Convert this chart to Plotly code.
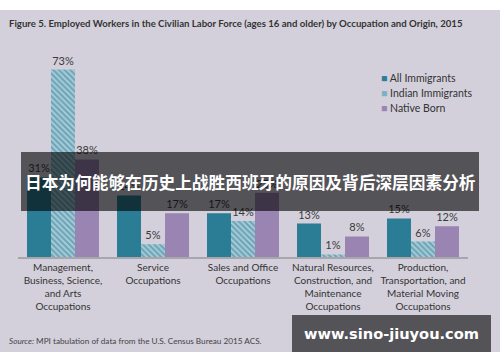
import plotly.graph_objects as go

categories = [
    "Management,<br>Business, Science,<br>and Arts<br>Occupations",
    "Service<br>Occupations",
    "Sales and Office<br>Occupations",
    "Natural Resources,<br>Construction, and<br>Maintenance<br>Occupations",
    "Production,<br>Transportation, and<br>Material Moving<br>Occupations",
]
all_immigrants = [31, 24, 17, 13, 15]
indian_immigrants = [73, 5, 14, 1, 6]
native_born = [38, 17, 25, 8, 12]
series_names = ["All Immigrants", "Indian Immigrants", "Native Born"]

TEAL = "#2b7d95"
PURPLE = "#9a84b2"
BG = "#d3d0db"
TXT = "#3a3a3a"
FONT = "Lato"

x = list(range(len(categories)))

fig = go.Figure()
fig.add_trace(go.Bar(
    x=x, y=all_immigrants, name=series_names[0],
    marker=dict(color=TEAL, line=dict(width=0)),
    text=[f"{v}%" for v in all_immigrants], textposition="outside",
    cliponaxis=False, showlegend=False,
))
fig.add_trace(go.Bar(
    x=x, y=indian_immigrants, name=series_names[1],
    marker=dict(color="#a8cbd7", line=dict(width=0),
                pattern=dict(shape="\\", fgcolor=TEAL, bgcolor="#a8cbd7",
                             size=4, solidity=0.5)),
    text=[f"{v}%" for v in indian_immigrants], textposition="outside",
    cliponaxis=False, showlegend=False,
))
fig.add_trace(go.Bar(
    x=x, y=native_born, name=series_names[2],
    marker=dict(color=PURPLE, line=dict(width=0)),
    text=[f"{v}%" for v in native_born], textposition="outside",
    cliponaxis=False, showlegend=False,
))

fig.update_traces(textfont=dict(family=FONT, size=11, color=TXT))

fig.update_layout(
    width=500, height=362, autosize=False,
    margin=dict(l=0, r=0, t=0, b=0),
    paper_bgcolor="white", plot_bgcolor="rgba(0,0,0,0)",
    barmode="group", bargap=0.2, bargroupgap=0,
    font=dict(family=FONT, color=TXT),
    xaxis=dict(
        domain=[18 / 500, 468 / 500], range=[-0.5, 4.5],
        tickmode="array", tickvals=x, ticktext=categories,
        tickfont=dict(family=FONT, size=10, color="#333333"),
        showgrid=False, zeroline=False, showline=True,
        linecolor="#a8a6ad", linewidth=2, ticks="",
    ),
    yaxis=dict(
        domain=[(362 - 257) / 362, 1 - 51.6 / 362], range=[0, 80],
        visible=False, showgrid=False, zeroline=False,
    ),
    showlegend=False,
)

shapes = [
    dict(type="rect", xref="paper", yref="paper", x0=0, x1=1,
         y0=1 - 352 / 362, y1=1 - 10 / 362, fillcolor=BG,
         line=dict(width=0), layer="below"),
    dict(type="rect", xref="paper", yref="paper", x0=21 / 500, x1=479 / 500,
         y0=1 - 211 / 362, y1=1 - 152 / 362, fillcolor="rgba(0,0,0,0.6)",
         line=dict(width=0), layer="above"),
    dict(type="rect", xref="paper", yref="paper", x0=292 / 500, x1=491 / 500,
         y0=1 - 352 / 362, y1=1 - 315 / 362, fillcolor="rgba(0,0,0,0.6)",
         line=dict(width=0), layer="above"),
]
fig.update_layout(shapes=shapes)

legend_colors = [TEAL, "#7fb0c2", PURPLE]
legend_y = [78, 93, 108]
annotations = [
    dict(text="Figure 5. Employed Workers in the Civilian Labor Force (ages 16 and older) by Occupation and Origin, 2015",
         xref="paper", yref="paper", x=7 / 500, y=1 - 23 / 362,
         xanchor="left", yanchor="middle", showarrow=False,
         font=dict(family=FONT, size=9.6, color="#333333", weight="bold")),
    dict(text="<i>Source:</i> MPI tabulation of data from the U.S. Census Bureau 2015 ACS.",
         xref="paper", yref="paper", x=7 / 500, y=1 - 341 / 362,
         xanchor="left", yanchor="middle", showarrow=False,
         font=dict(family=FONT, size=8.2, color="#444444")),
    dict(text="日本为何能够在历史上战胜西班牙的原因及背后深层因素分析",
         xref="paper", yref="paper", x=250 / 500, y=1 - 182 / 362,
         xanchor="center", yanchor="middle", showarrow=False,
         font=dict(family="Noto Sans CJK SC", size=16.7, color="white", weight="bold")),
    dict(text="www.sino-jiuyou.com",
         xref="paper", yref="paper", x=391 / 500, y=1 - 333 / 362,
         xanchor="center", yanchor="middle", showarrow=False,
         font=dict(family="DejaVu Sans", size=14.6, color="white", weight="bold")),
]
for name, col, yy in zip(series_names, legend_colors, legend_y):
    annotations.append(dict(
        text=f"<span style='color:{col}'>■</span> {name}",
        xref="paper", yref="paper", x=379 / 500, y=1 - yy / 362,
        xanchor="left", yanchor="middle", showarrow=False,
        font=dict(family=FONT, size=10.5, color="#333333")))
fig.update_layout(annotations=annotations)

fig.write_html("out.html",
               config={"displayModeBar": False},
               post_script="document.body.style.margin='0';document.body.style.padding='0';")
